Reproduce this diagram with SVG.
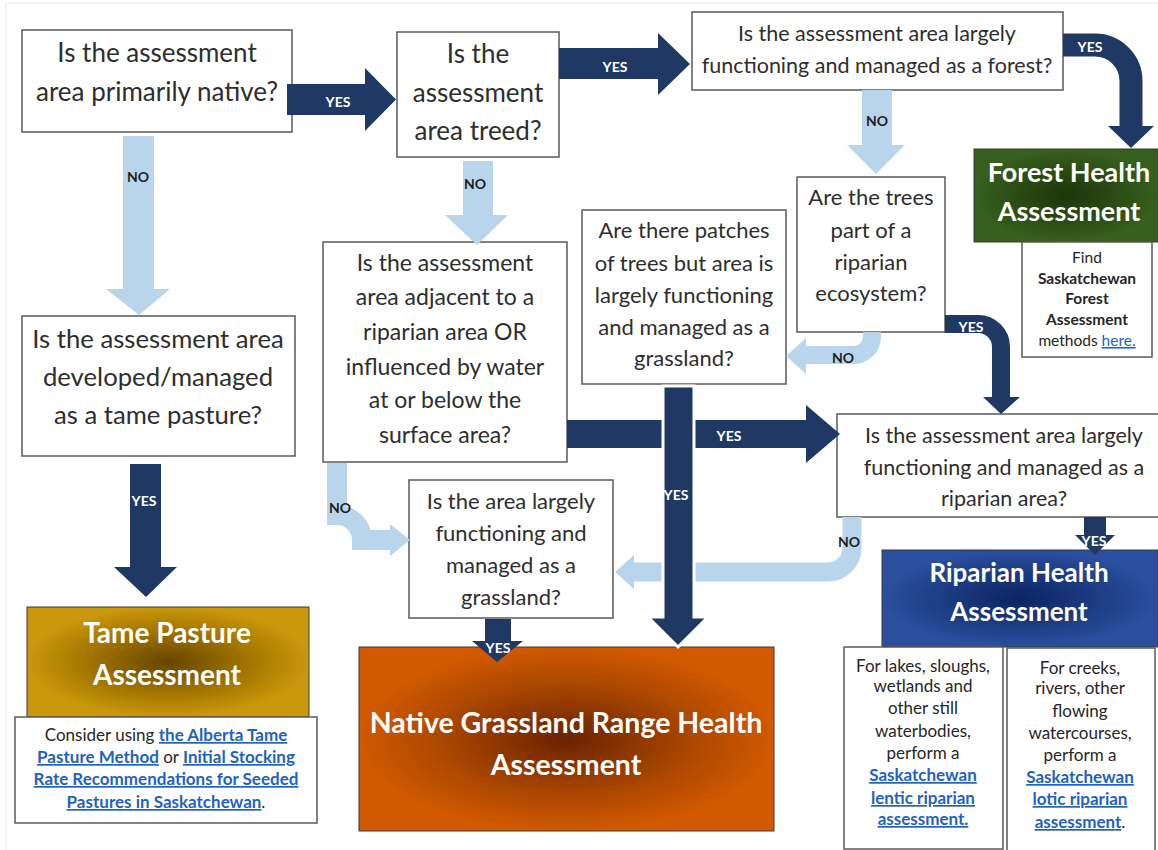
<svg xmlns="http://www.w3.org/2000/svg" width="1158" height="850" viewBox="0 0 1158 850">
  <defs>
    <style>
      .q { fill: #ffffff; stroke: #5a5a5a; stroke-width: 1.5; }
      .note { fill: #ffffff; stroke: #5a5a5a; stroke-width: 1.5; }
      .hd { stroke: #3a3a3a; stroke-width: 1; }
      .qt { font-family: Lato, "Liberation Sans", sans-serif; fill: #2e2e2e; text-anchor: middle; }
      .big { font-size: 26px; }
      .mid { font-size: 22px; }
      .ht { font-family: Lato, "Liberation Sans", sans-serif; font-weight: 700; fill: #ffffff; text-anchor: middle; }
      .nt { font-family: Lato, "Liberation Sans", sans-serif; fill: #262626; text-anchor: middle; }
      .b { font-weight: 700; }
      .lk { fill: #1f62c4; text-decoration: underline; }
      .dk { fill: #1f3864; }
      .lt { fill: #b9d5ec; }
      .dks { fill: none; stroke: #1f3864; }
      .lts { fill: none; stroke: #b9d5ec; }
      .lab { font-family: Lato, "Liberation Sans", sans-serif; font-weight: 700; font-size: 14px; text-anchor: middle; }
      .yes { fill: #ffffff; }
      .no { fill: #1e1e1e; }
    </style>
    <radialGradient id="gTame">
      <stop offset="0" stop-color="#664500"/>
      <stop offset="0.6" stop-color="#a67700"/>
      <stop offset="1" stop-color="#c9980c"/>
    </radialGradient>
    <radialGradient id="gNative">
      <stop offset="0" stop-color="#6a2200"/>
      <stop offset="0.65" stop-color="#b04a00"/>
      <stop offset="1" stop-color="#d15900"/>
    </radialGradient>
    <radialGradient id="gForest">
      <stop offset="0" stop-color="#1c350a"/>
      <stop offset="1" stop-color="#375f1d"/>
    </radialGradient>
    <radialGradient id="gRiparian">
      <stop offset="0" stop-color="#0b2460"/>
      <stop offset="1" stop-color="#2a4f9e"/>
    </radialGradient>
  </defs>

  <rect width="1158" height="850" fill="#ffffff"/>
  <path d="M6,850 V3 H1158" fill="none" stroke="#ececec" stroke-width="1"/>

  <!-- decision boxes -->
  <g id="q-native">
    <rect class="q" x="22" y="30" width="270" height="102"/>
    <text class="qt big"><tspan x="157" y="62">Is the assessment</tspan><tspan x="157" y="101">area primarily native?</tspan></text>
  </g>

  <g id="q-treed">
    <rect class="q" x="397" y="32" width="162" height="125"/>
    <text class="qt big"><tspan x="478" y="63">Is the</tspan><tspan x="478" y="102">assessment</tspan><tspan x="478" y="140">area treed?</tspan></text>
  </g>

  <g id="q-forest">
    <rect class="q" x="692" y="12" width="371" height="78"/>
    <text class="qt" font-size="21.5"><tspan x="877" y="41">Is the assessment area largely</tspan><tspan x="877" y="73">functioning and managed as a forest?</tspan></text>
  </g>

  <g id="q-tame">
    <rect class="q" x="22" y="316" width="273" height="140"/>
    <text class="qt" font-size="25.7"><tspan x="158" y="348">Is the assessment area</tspan><tspan x="158" y="386">developed/managed</tspan><tspan x="158" y="424">as a tame pasture?</tspan></text>
  </g>

  <g id="q-adjacent">
    <rect class="q" x="323" y="242" width="244" height="220"/>
    <text class="qt" font-size="23"><tspan x="445" y="271">Is the assessment</tspan><tspan x="445" y="305">area adjacent to a</tspan><tspan x="445" y="340">riparian area OR</tspan><tspan x="445" y="375">influenced by water</tspan><tspan x="445" y="408">at or below the</tspan><tspan x="445" y="443">surface area?</tspan></text>
  </g>

  <g id="q-patches">
    <rect class="q" x="582" y="210" width="204" height="174"/>
    <text class="qt mid"><tspan x="684" y="238">Are there patches</tspan><tspan x="684" y="271">of trees but area is</tspan><tspan x="684" y="303">largely functioning</tspan><tspan x="684" y="335">and managed as a</tspan><tspan x="684" y="366">grassland?</tspan></text>
  </g>

  <g id="q-trees">
    <rect class="q" x="797" y="177" width="148" height="155"/>
    <text class="qt mid"><tspan x="871" y="205">Are the trees</tspan><tspan x="871" y="238">part of a</tspan><tspan x="871" y="270">riparian</tspan><tspan x="871" y="301">ecosystem?</tspan></text>
  </g>

  <g id="q-grassland">
    <rect class="q" x="409" y="480" width="204" height="138"/>
    <text class="qt mid"><tspan x="511" y="509">Is the area largely</tspan><tspan x="511" y="541">functioning and</tspan><tspan x="511" y="573">managed as a</tspan><tspan x="511" y="605">grassland?</tspan></text>
  </g>

  <g id="q-riparian">
    <rect class="q" x="837" y="414" width="334" height="103"/>
    <text class="qt" font-size="21.5"><tspan x="1004" y="443">Is the assessment area largely</tspan><tspan x="1004" y="475">functioning and managed as a</tspan><tspan x="1004" y="506">riparian area?</tspan></text>
  </g>

  <!-- outcome boxes -->
  <g id="out-forest">
    <rect class="hd" x="974" y="149" width="184" height="93" fill="url(#gForest)"/>
    <text class="ht" font-size="27"><tspan x="1069" y="182">Forest Health</tspan><tspan x="1069" y="221">Assessment</tspan></text>
    <rect class="note" x="1022" y="242" width="130" height="115"/>
    <text class="nt" font-size="15.5"><tspan x="1087" y="263">Find</tspan><tspan x="1087" y="284" class="b">Saskatchewan</tspan><tspan x="1087" y="304" class="b">Forest</tspan><tspan x="1087" y="325" class="b">Assessment</tspan><tspan x="1087" y="346">methods <tspan class="lk">here.</tspan></tspan></text>
  </g>

  <g id="out-tame">
    <rect class="hd" x="27" y="607" width="282" height="110" fill="url(#gTame)"/>
    <text class="ht" font-size="28"><tspan x="167" y="643">Tame Pasture</tspan><tspan x="167" y="685">Assessment</tspan></text>
    <rect class="note" x="15" y="717" width="302" height="106"/>
    <text class="nt" font-size="17"><tspan x="166" y="741">Consider using <tspan class="lk b">the Alberta Tame</tspan></tspan><tspan x="166" y="763"><tspan class="lk b">Pasture Method</tspan> or <tspan class="lk b">Initial Stocking</tspan></tspan><tspan x="166" y="785" class="lk b">Rate Recommendations for Seeded</tspan><tspan x="166" y="808"><tspan class="lk b">Pastures in Saskatchewan</tspan>.</tspan></text>
  </g>

  <g id="out-native">
    <rect class="hd" x="359" y="647" width="415" height="184" fill="url(#gNative)"/>
    <text class="ht" font-size="28.5"><tspan x="566" y="733">Native Grassland Range Health</tspan><tspan x="566" y="775">Assessment</tspan></text>
  </g>

  <g id="out-riparian">
    <rect class="hd" x="882" y="550" width="276" height="97" fill="url(#gRiparian)"/>
    <text class="ht" font-size="26"><tspan x="1019" y="582">Riparian Health</tspan><tspan x="1019" y="621">Assessment</tspan></text>
    <rect class="note" x="844" y="647" width="159" height="202"/>
    <text class="nt" font-size="17"><tspan x="923" y="672">For lakes, sloughs,</tspan><tspan x="923" y="692">wetlands and</tspan><tspan x="923" y="714">other still</tspan><tspan x="923" y="737">waterbodies,</tspan><tspan x="923" y="759">perform a</tspan><tspan x="923" y="781" class="lk b">Saskatchewan</tspan><tspan x="923" y="804" class="lk b">lentic riparian</tspan><tspan x="923" y="825" class="lk b">assessment.</tspan></text>
    <rect class="note" x="1007" y="648" width="148" height="204"/>
    <text class="nt" font-size="17"><tspan x="1080" y="674">For creeks,</tspan><tspan x="1080" y="694">rivers, other</tspan><tspan x="1080" y="717">flowing</tspan><tspan x="1080" y="739">watercourses,</tspan><tspan x="1080" y="761">perform a</tspan><tspan x="1080" y="783" class="lk b">Saskatchewan</tspan><tspan x="1080" y="805" class="lk b">lotic riparian</tspan><tspan x="1080" y="828"><tspan class="lk b">assessment</tspan>.</tspan></text>
  </g>

  <!-- connectors -->
  <g id="connectors">
    <!-- NO branches (light) -->
    <path class="lt" d="M123,136 H154 V289 H170 L139,315 L106,289 H123 Z"/>
    <path class="lt" d="M463,161 H493 V215 H508 L477,245 L445,215 H463 Z"/>
    <path class="lt" d="M862,90 H892 V145 H905 L876,174 L847,145 H862 Z"/>
    <path class="lts" stroke-width="18" d="M872,332 V337 A18,18 0 0 1 854,355 H805"/>
    <path class="lt" d="M806,338 V374 L786,356 Z"/>
    <path class="lts" stroke-width="20" d="M337,463 V515 A25,25 0 0 1 362,540 H392"/>
    <path class="lt" d="M390,524 V556 L410,540 Z"/>
    <path class="lts" stroke-width="19" d="M852,517 V548 A24,24 0 0 1 828,572 H632"/>
    <path class="lt" d="M634,555 V589 L615,572 Z"/>

    <!-- YES branches (dark) -->
    <path class="dk" d="M287,84 H365 V68 L396,99.5 L365,131 V115 H287 Z"/>
    <path class="dk" d="M559,48 H658 V33 L690,64 L658,95 V79 H559 Z"/>
    <path class="dks" stroke-width="23" d="M1063,45 H1095 A36,36 0 0 1 1131,81 V127"/>
    <path class="dk" d="M1108,126 H1154 L1131,148 Z"/>
    <path class="dks" stroke-width="18" d="M945,324 H978 A23,23 0 0 1 1001,347 V398"/>
    <path class="dk" d="M983,397 H1020 L1001,414 Z"/>
    <path class="dk" d="M567,420 H806 V405 L840,434 L806,463 V448 H567 Z"/>
    <path class="dk" stroke="#ffffff" stroke-width="3" d="M663,386 H694 V617 H708 L678,647 L648,617 H663 Z"/>
    <path class="dk" d="M485,619 H511 V641 H523 L497,662 L472,641 H485 Z"/>
    <path class="dk" d="M1084,517 H1106 V535 H1115 L1095,555 L1075,535 H1084 Z"/>
    <path class="dk" d="M130,464 H161 V567 H177 L146,597 L114,567 H130 Z"/>

    <!-- branch labels -->
    <text class="lab yes" x="338" y="107">YES</text>
    <text class="lab no" x="138" y="182">NO</text>
    <text class="lab yes" x="615" y="72">YES</text>
    <text class="lab no" x="475" y="189">NO</text>
    <text class="lab yes" x="1090" y="52">YES</text>
    <text class="lab no" x="877" y="126">NO</text>
    <text class="lab yes" x="971" y="332">YES</text>
    <text class="lab no" x="843" y="363">NO</text>
    <text class="lab yes" x="729" y="441">YES</text>
    <text class="lab yes" x="676" y="500">YES</text>
    <text class="lab no" x="340" y="513">NO</text>
    <text class="lab no" x="849" y="547">NO</text>
    <text class="lab yes" x="144" y="506">YES</text>
    <text class="lab yes" x="498" y="653" font-size="12.5">YES</text>
    <text class="lab yes" x="1094" y="546" font-size="12.5">YES</text>
  </g>
</svg>
